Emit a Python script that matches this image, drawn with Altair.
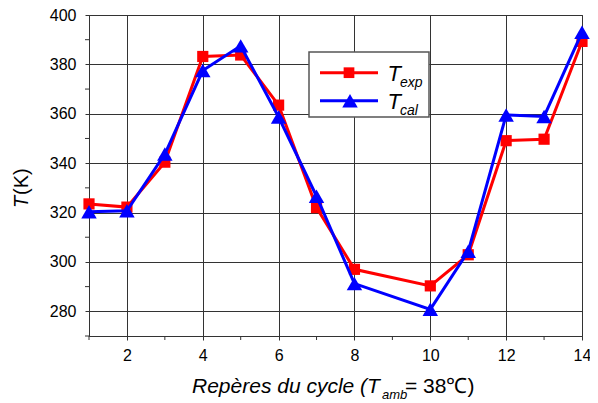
import altair as alt
import pandas as pd

# ---- data ----
cycle_pts = [1, 2, 3, 4, 5, 6, 7, 8, 10, 11, 12, 13, 14]
t_exp = [323.5, 322.2, 340.4, 383.2, 383.8, 363.5, 322.0, 297.0, 290.3, 302.9, 349.1, 349.7, 389.3]
t_cal = [320.3, 320.7, 343.7, 377.5, 387.5, 358.7, 326.6, 291.2, 280.8, 304.3, 359.5, 358.9, 393.0]

x_major = [2, 4, 6, 8, 10, 12, 14]
x_minor = [1, 3, 5, 7, 9, 11, 13]
y_major = [280, 300, 320, 340, 360, 380, 400]
y_minor = [270, 290, 310, 330, 350, 370, 390]

FONT = "Liberation Sans"
W, H = 493, 321

exp_df = pd.DataFrame({"x": cycle_pts, "T": t_exp})
cal_df = pd.DataFrame({"x": cycle_pts, "T": t_cal})
xminor_df = pd.DataFrame({"x": x_minor})
yminor_df = pd.DataFrame({"T": y_minor})
one = pd.DataFrame({"a": [1]})

xs = alt.Scale(domain=[1, 14], nice=False, zero=False)
ys = alt.Scale(domain=[270, 400], nice=False, zero=False)
xax = alt.Axis(values=x_major, title=None, grid=True, tickSize=4, labelPadding=7,
               labelFlush=False, format="d")
yax = alt.Axis(values=y_major, title=None, grid=True, tickSize=4, labelPadding=9, format="d")

X = alt.X("x:Q", scale=xs, axis=xax)
Y = alt.Y("T:Q", scale=ys, axis=yax)

RED = "#ff0000"
BLUE = "#0000ff"

red_line = alt.Chart(exp_df).mark_line(color=RED, strokeWidth=3).encode(x=X, y=Y)
red_pts = alt.Chart(exp_df).mark_point(shape="square", filled=True, color=RED, size=125, opacity=1).encode(x=X, y=Y)
blue_line = alt.Chart(cal_df).mark_line(color=BLUE, strokeWidth=3).encode(x=X, y=Y)
blue_pts = alt.Chart(cal_df).mark_point(shape="triangle-up", filled=True, color=BLUE, size=240, opacity=1).encode(x=X, y=Y)

# minor ticks
xminor = alt.Chart(xminor_df).mark_rule(color="#333", strokeWidth=1).encode(
    x=X, y=alt.value(H), y2=alt.value(H + 4))
yminor = alt.Chart(yminor_df).mark_rule(color="#333", strokeWidth=1).encode(
    y=Y, x=alt.value(-4), x2=alt.value(0))

# legend box
leg_box = alt.Chart(one).mark_rect(fill="white", stroke="#555", strokeWidth=1.5).encode(
    x=alt.value(220), x2=alt.value(340), y=alt.value(37), y2=alt.value(102))
leg_r1 = alt.Chart(one).mark_rule(color=RED, strokeWidth=3).encode(
    x=alt.value(231), x2=alt.value(289), y=alt.value(57.7))
leg_b1 = alt.Chart(one).mark_rule(color=BLUE, strokeWidth=3).encode(
    x=alt.value(231), x2=alt.value(289), y=alt.value(85.7))
leg_rp = alt.Chart(one).mark_point(shape="square", filled=True, color=RED, size=115, opacity=1).encode(
    x=alt.value(260), y=alt.value(57.7))
leg_bp = alt.Chart(one).mark_point(shape="triangle-up", filled=True, color=BLUE, size=240, opacity=1).encode(
    x=alt.value(261), y=alt.value(85.7))


def txt(s, x, y, size, italic=False, align="left", baseline="alphabetic", angle=0):
    kw = dict(text=s, font=FONT, fontSize=size, align=align, baseline=baseline, color="black")
    if italic:
        kw["fontStyle"] = "italic"
    if angle:
        kw["angle"] = angle
    return alt.Chart(one).mark_text(**kw).encode(x=alt.value(x), y=alt.value(y))


texts = [
    txt("T", 298.5, 65.5, 22, italic=True),
    txt("exp", 311, 72, 14, italic=True),
    txt("T", 298.5, 94, 22, italic=True),
    txt("cal", 311, 100, 14, italic=True),
    # x-axis title
    txt("Repères du cycle (", 103, 378, 21, italic=True),
    txt("T", 278, 378, 21, italic=True),
    txt("amb", 293, 384, 13, italic=True),
    txt("= 38℃)", 316, 378, 21),
    # y-axis title
    txt("T", -61, 193, 20, italic=True, angle=270),
    txt("(K)", -61, 180, 20, angle=270),
]

chart = alt.layer(
    xminor, yminor, red_line, red_pts, blue_line, blue_pts,
    leg_box, leg_r1, leg_b1, leg_rp, leg_bp, *texts
).properties(
    width=W, height=H,
    padding={"left": 81, "top": 7, "right": 8, "bottom": 72},
    autosize=alt.AutoSizeParams(type="none"),
).configure_view(
    stroke="#333", strokeWidth=1
).configure_axis(
    domainColor="#333", domainWidth=1, gridColor="#333", gridWidth=1, gridOpacity=1,
    tickColor="#333", tickWidth=1, labelFont=FONT, labelFontSize=16, labelColor="black",
)

chart.save("out.html", embed_options={"renderer": "svg", "actions": False})
